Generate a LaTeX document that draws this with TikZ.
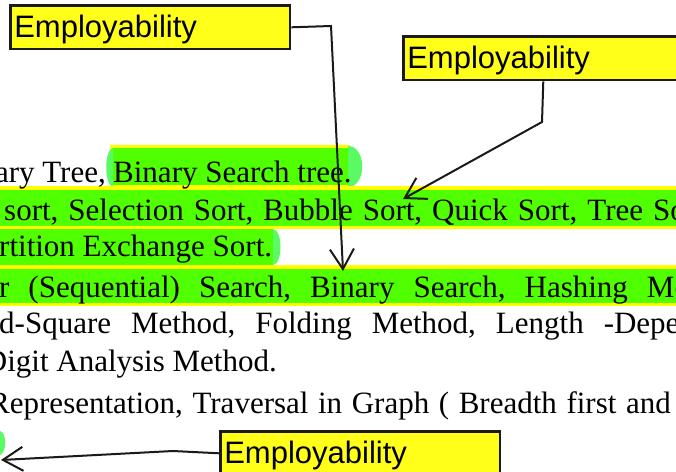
\documentclass[tikz,border=0pt]{standalone}
\usepackage{fontspec}
\setmainfont{Liberation Serif}
\newfontfamily\boxfont{Liberation Sans}
\usetikzlibrary{arrows.meta}
\definecolor{boxyellow}{RGB}{255,255,26}
\definecolor{boxline}{RGB}{26,26,26}
\definecolor{hly}{RGB}{255,255,0}
\definecolor{hlg}{RGB}{80,255,0}
\definecolor{hlc}{RGB}{90,250,100}
\begin{document}
\begin{tikzpicture}[x=1pt,y=-1pt,
  txt/.style={inner sep=0pt, font=\fontsize{31}{37}\selectfont, text=black},
  ebox/.style={draw=boxline, line width=2.6pt, fill=boxyellow,
    font=\boxfont\fontsize{31}{37}\selectfont, minimum width=279.4pt,
    minimum height=43.4pt, text width=272pt, inner xsep=3.7pt, inner ysep=0pt,
    text height=20pt, text depth=0pt, align=left, anchor=north west},
  conn/.style={draw=boxline, line width=2pt, -{Straight Barb[length=20pt,width=24pt]}}]
\useasboundingbox (0,0) rectangle (676,471);
\clip (0,0) rectangle (676,471);
% highlights
\fill[hly] (110,145) rectangle (350,188);
\fill[hlg] (113,148) rectangle (348,185);
\fill[hlc] (348,146) .. controls (367,146) and (367,187) .. (348,187) -- cycle;
\fill[hlc] (113,148) .. controls (104,149) and (104,186) .. (113,187) -- cycle;
\fill[hly] (0,186) rectangle (676,229);
\fill[hlg] (0,190) rectangle (676,226);
\fill[hlg] (0,229) rectangle (273,265);
\fill[hlc] (273,229) .. controls (283,230) and (283,264) .. (273,265) -- cycle;
\fill[hly] (0,265) rectangle (676,306);
\fill[hlg] (0,269) rectangle (676,303);
\fill[hlc] (0,431) .. controls (7,433) and (7,452) .. (0,455) -- cycle;
% text lines
\node[txt, anchor=base east] (l1a) at (106,182) {ary Tree,};
\node[txt, anchor=base west] (l1b) at (113,182) {Binary Search tree.};
\node[txt, anchor=base west] (l2) at (4,220) {\spaceskip=10pt\relax sort, Selection Sort, Bubble Sort, Quick Sort, Tree So};
\node[txt, anchor=base west] (l3) at (-1,256) {rtition Exchange Sort.};
\node[txt, anchor=base west] (l4) at (-1,297) {\spaceskip=19pt\relax r (Sequential) Search, Binary Search, Hashing Me};
\node[txt, anchor=base west] (l5) at (-1,333) {\spaceskip=20pt\relax d-Square Method, Folding Method, Length -Depe};
\node[txt, anchor=base east] (l6) at (277,371) {Digit Analysis Method.};
\node[txt, anchor=base east] (l7) at (671,413) {\spaceskip=9.6pt\relax Representation, Traversal in Graph ( Breadth first and};
% boxes
\node[ebox] (b1) at (9.3,4.3) {Employability};
\node[ebox] (b2) at (402.3,35.3) {Employability};
\node[ebox] (b3) at (219.3,430.3) {Employability};
% connectors
\coordinate (k1) at (331,26);
\coordinate (t1) at (343,271);
\draw[conn] (b1.east) -- (k1) -- (t1);
\coordinate (k2) at (542,122);
\coordinate (t2) at (403,199);
\draw[conn] (b2.south) -- (k2) -- (t2);
\coordinate (k3) at (173,451);
\coordinate (t3) at (1,460);
\draw[conn] (b3.west) -- (k3) -- (t3);
\end{tikzpicture}
\end{document}
